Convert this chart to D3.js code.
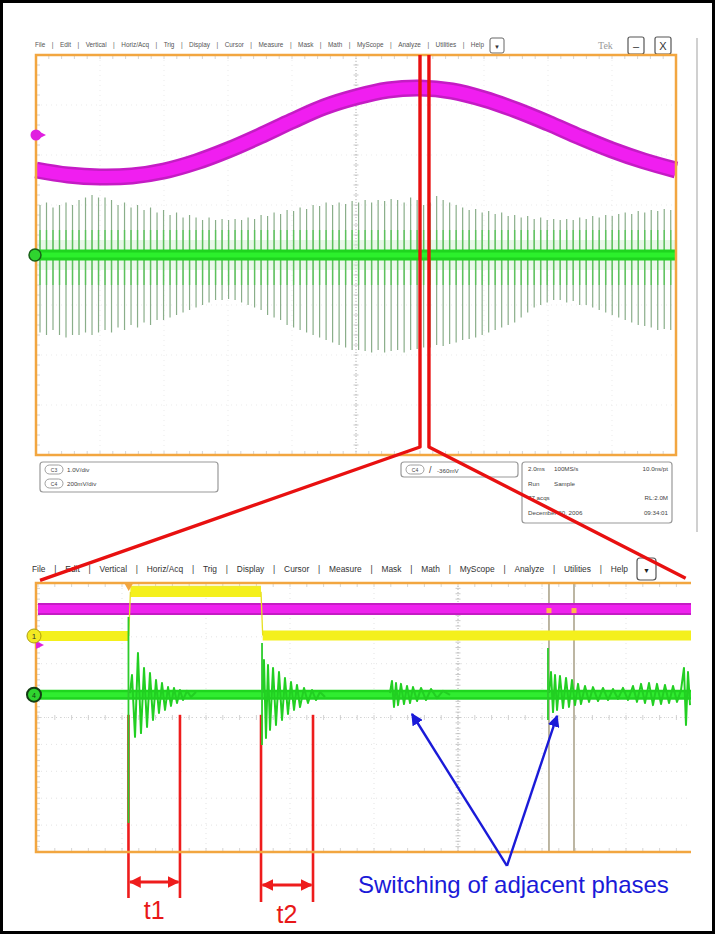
<!DOCTYPE html>
<html>
<head>
<meta charset="utf-8">
<script src="https://cdnjs.cloudflare.com/ajax/libs/d3/7.8.5/d3.min.js"></script>
<style>
  body { margin: 0; background: #fff; }
  svg { display: block; font-family: "Liberation Sans", Arial, sans-serif; }
</style>
</head>
<body>
<div id="chart"></div>
<script>
// ---- data (all values in scope divisions) ----
const menuItems = ["File", "Edit", "Vertical", "Horiz/Acq", "Trig", "Display", "Cursor",
  "Measure", "Mask", "Math", "MyScope", "Analyze", "Utilities", "Help"];

// top capture, 2.0ms/div, C3 magenta (1.0V/div)
const topMagentaT = [0, 0.5, 1, 1.5, 2, 2.5, 3, 3.5, 4, 4.5, 5, 5.5, 6, 6.5, 7, 7.5, 8, 8.5, 9, 9.5, 10];
const topMagentaV = [1.70, 1.60, 1.56, 1.58, 1.68, 1.86, 2.10, 2.38, 2.68, 2.96, 3.16, 3.30, 3.34,
  3.28, 3.12, 2.90, 2.64, 2.36, 2.10, 1.88, 1.70];

// top capture, C4 green: one spike per switching period
const firstSpikeT = 0.0625, switchPeriod = 0.1016;
const topSpikeHigh = [
  1.0, 1.05, 0.95, 1.0, 1.05, 1.0, 1.1, 1.15, 1.2, 1.15,
  1.15, 1.1, 1.0, 1.05, 0.95, 1.0, 0.9, 0.95, 0.85, 0.9,
  0.8, 0.85, 0.75, 0.8, 0.75, 0.7, 0.75, 0.7, 0.72, 0.7,
  0.72, 0.7, 0.75, 0.72, 0.8, 0.78, 0.85, 0.82, 0.9, 0.88,
  0.95, 0.92, 1.0, 0.98, 1.05, 1.0, 1.05, 1.02, 1.08, 1.05,
  1.1, 1.05, 1.1, 1.08, 1.12, 1.1, 1.05, 1.15, 1.1, 1.0,
  1.05, 1.18, 1.1, 1.05, 1.0, 0.95, 0.9, 0.92, 0.85, 0.88,
  0.82, 0.85, 0.78, 0.8, 0.75, 0.78, 0.72, 0.75, 0.7, 0.72,
  0.7, 0.72, 0.7, 0.75, 0.72, 0.78, 0.75, 0.8, 0.78, 0.82,
  0.85, 0.82, 0.88, 0.85, 0.9, 0.88, 0.92, 0.9];
const topSpikeLow = [
  -1.55, -1.6, -1.5, -1.6, -1.65, -1.6, -1.6, -1.55, -1.6, -1.55,
  -1.5, -1.55, -1.45, -1.5, -1.4, -1.45, -1.35, -1.4, -1.3, -1.3,
  -1.25, -1.2, -1.15, -1.1, -1.05, -1.0, -0.95, -0.9, -0.9, -0.88,
  -0.9, -0.95, -1.0, -1.05, -1.1, -1.2, -1.25, -1.3, -1.4, -1.45,
  -1.5, -1.55, -1.6, -1.65, -1.7, -1.75, -1.8, -1.85, -1.9, -1.9,
  -1.92, -1.95, -1.9, -1.95, -1.92, -1.9, -1.95, -1.9, -1.88, -1.85,
  -1.85, -1.8, -1.82, -1.78, -1.75, -1.7, -1.68, -1.65, -1.6, -1.55,
  -1.5, -1.45, -1.4, -1.35, -1.25, -1.15, -1.05, -1.0, -0.95, -0.9,
  -0.9, -0.95, -0.92, -1.0, -1.0, -1.05, -1.1, -1.15, -1.2, -1.25,
  -1.3, -1.35, -1.4, -1.42, -1.45, -1.5, -1.48, -1.5];

// zoomed capture
const lowMagentaLevel = 4.03;
const yellowLevels = [
  { t0: 0, t1: 1.08, v: 3.03 },
  { t0: 1.10, t1: 2.655, v: 4.67 },
  { t0: 2.675, t1: 7.8, v: 3.05 }];
const lowGreenLevel = 0.85;
const greenSpikes = [
  { t: 1.077, hi: 3.74, lo: -3.92 },
  { t: 2.667, hi: 2.77, lo: -1.02 },
  { t: 6.071, hi: 2.58, lo: -0.09 }];
const ring1 = [[1.095, 0.91], [1.119, 1.58], [1.155, -0.72], [1.190, 2.40], [1.226, -0.58], [1.262, 1.84],
  [1.298, -0.35], [1.333, 1.65], [1.369, -0.09], [1.405, 1.39], [1.440, 0.17], [1.476, 1.28], [1.512, 0.28],
  [1.548, 1.13], [1.583, 0.43], [1.619, 1.10], [1.655, 0.54], [1.690, 1.02], [1.726, 0.65], [1.774, 0.99],
  [1.821, 0.76], [1.881, 0.95]];
const ring2 = [[2.673, 0.91], [2.690, 2.14], [2.714, -0.76], [2.738, 1.95], [2.762, -0.46], [2.798, 1.84],
  [2.833, -0.28], [2.869, 1.69], [2.905, -0.09], [2.940, 1.47], [2.976, 0.13], [3.012, 1.32], [3.048, 0.28],
  [3.083, 1.21], [3.119, 0.39], [3.167, 1.10], [3.214, 0.54], [3.262, 1.02], [3.310, 0.65], [3.357, 0.95],
  [3.417, 0.76]];
const ring3 = [[4.190, 0.91], [4.214, 1.36], [4.238, 0.39], [4.262, 1.28], [4.286, 0.46], [4.321, 1.25],
  [4.357, 0.50], [4.393, 1.17], [4.429, 0.54], [4.464, 1.13], [4.512, 0.61], [4.560, 1.10], [4.619, 0.65],
  [4.679, 1.06], [4.750, 0.72], [4.821, 0.99], [4.905, 0.84]];
const ring4 = [[6.083, 0.91], [6.107, 1.69], [6.131, 0.20], [6.155, 1.58], [6.179, 0.28], [6.214, 1.54],
  [6.250, 0.35], [6.286, 1.47], [6.321, 0.39], [6.357, 1.39], [6.393, 0.46], [6.429, 1.25], [6.464, 0.50],
  [6.512, 1.17], [6.560, 0.58], [6.607, 1.13], [6.667, 0.61], [6.726, 1.10], [6.786, 0.65], [6.845, 1.06],
  [6.905, 0.69], [6.964, 1.10], [7.024, 0.65], [7.083, 1.17], [7.131, 0.58], [7.179, 1.25], [7.226, 0.54],
  [7.274, 1.28], [7.321, 0.46], [7.369, 1.25], [7.417, 0.50], [7.464, 1.21], [7.512, 0.54], [7.560, 1.17],
  [7.607, 0.58], [7.655, 1.02], [7.690, 1.84], [7.714, -0.28], [7.738, 1.69], [7.762, 0.46]];
const lowCursors = [6.083, 6.381];
const tMarks = [
  { label: "t1", t0: 1.077, t1: 1.69, arrowY: 882, labelY: 919, bottom: 898 },
  { label: "t2", t0: 2.655, t1: 3.274, arrowY: 885, labelY: 923, bottom: 902 }];
const phaseArrowTips = [[4.452, 0.13], [6.179, 0.06]];
const phaseArrowBase = [5.583, -5.52];
const zoomWindow = [6.0, 6.14];   // top-capture divisions shown below

const topInfo1 = [["C3", "1.0V/div"], ["C4", "200mV/div"]];
const topInfo3 = [["2.0ms", "100MS/s", "10.0ns/pt"], ["Run", "Sample", ""], ["77 acqs", "", "RL:2.0M"],
  ["December 20, 2006", "", "09:34:01"]];

// ---- setup ----
const W = 715, H = 934;
const svg = d3.select("#chart").append("svg").attr("width", W).attr("height", H);
svg.append("rect").attr("width", W).attr("height", H).attr("fill", "#fff");

const orange = "#f2a640";

const xTop = d3.scaleLinear().domain([0, 10]).range([36, 676]);
const yTop = d3.scaleLinear().domain([-4, 4]).range([455, 55]);
const xLow = d3.scaleLinear().domain([0, 10]).range([38, 878]);
const yLow = d3.scaleLinear().domain([-5, 5]).range([852, 583]);

function menuBar(x0, x1, y, size, color) {
  const g = svg.append("g").attr("font-size", size).attr("fill", color);
  const texts = menuItems.map(s => g.append("text").attr("y", y).text(s));
  const widths = texts.map(t => t.node().getComputedTextLength());
  const gap = (x1 - x0 - d3.sum(widths)) / (menuItems.length - 1);
  let x = x0;
  texts.forEach((t, i) => {
    t.attr("x", x);
    x += widths[i];
    if (i < menuItems.length - 1) {
      g.append("text").attr("x", x + gap / 2).attr("y", y).attr("text-anchor", "middle").text("|");
    }
    x += gap;
  });
}

function grid(g, x, y, xd, yd, xc, yc, x0, x1, y0, y1, shade) {
  g.selectAll(null).data(xd).join("line")
    .attr("x1", d => x(d)).attr("x2", d => x(d)).attr("y1", y0).attr("y2", y1)
    .attr("stroke", shade).attr("stroke-width", 0.8).attr("stroke-dasharray", "1,4");
  g.selectAll(null).data(yd).join("line")
    .attr("y1", d => y(d)).attr("y2", d => y(d)).attr("x1", x0).attr("x2", x1)
    .attr("stroke", shade).attr("stroke-width", 0.8).attr("stroke-dasharray", "1,4");
  // center cross
  g.append("line").attr("x1", x(xc)).attr("x2", x(xc)).attr("y1", y0).attr("y2", y1)
    .attr("stroke", "#b4b4b4").attr("stroke-width", 1).attr("stroke-dasharray", "1,2");
  g.append("line").attr("y1", y(yc)).attr("y2", y(yc)).attr("x1", x0).attr("x2", x1)
    .attr("stroke", "#cacaca").attr("stroke-width", 0.8).attr("stroke-dasharray", "1,3");
  const minorX = d3.range(x.domain()[0], x.domain()[1] + 0.001, 0.2).filter(d => x(d) <= x1);
  const minorY = d3.range(y.domain()[0], y.domain()[1] + 0.001, 0.2);
  g.selectAll(null).data(minorY).join("line")
    .attr("x1", x(xc) - 2.5).attr("x2", x(xc) + 2.5).attr("y1", d => y(d)).attr("y2", d => y(d))
    .attr("stroke", "#bcbcbc").attr("stroke-width", 0.8);
  g.selectAll(null).data(minorX).join("line")
    .attr("y1", y(yc) - 2.5).attr("y2", y(yc) + 2.5).attr("x1", d => x(d)).attr("x2", d => x(d))
    .attr("stroke", "#c8c8c8").attr("stroke-width", 0.8);
  // border ticks
  g.selectAll(null).data(minorX).join("line")
    .attr("x1", d => x(d)).attr("x2", d => x(d)).attr("y1", y1 - 4).attr("y2", y1)
    .attr("stroke", "#cccccc").attr("stroke-width", 0.8);
  g.selectAll(null).data(minorX).join("line")
    .attr("x1", d => x(d)).attr("x2", d => x(d)).attr("y1", y0).attr("y2", y0 + 4)
    .attr("stroke", "#cccccc").attr("stroke-width", 0.8);
  g.selectAll(null).data(minorY).join("line")
    .attr("x1", x0).attr("x2", x0 + 4).attr("y1", d => y(d)).attr("y2", d => y(d))
    .attr("stroke", "#cccccc").attr("stroke-width", 0.8);
}

// ---------------- top capture ----------------
menuBar(35, 484, 47, 6.4, "#555");
svg.append("rect").attr("x", 490).attr("y", 38).attr("width", 14).attr("height", 15).attr("rx", 2)
  .attr("fill", "#fff").attr("stroke", "#666");
svg.append("text").attr("x", 497).attr("y", 48.5).attr("text-anchor", "middle").attr("font-size", 6).attr("fill", "#333").text("▼");
svg.append("text").attr("x", 598).attr("y", 49).attr("font-size", 10).attr("font-family", "Liberation Serif, serif")
  .attr("fill", "#999").text("Tek");
[[628, "–"], [655, "X"]].forEach(([bx, s]) => {
  svg.append("rect").attr("x", bx).attr("y", 37).attr("width", 16).attr("height", 17).attr("rx", 2)
    .attr("fill", "#fff").attr("stroke", "#555").attr("stroke-width", 1.2);
  svg.append("text").attr("x", bx + 8).attr("y", 50).attr("text-anchor", "middle").attr("font-size", 11)
    .attr("fill", "#333").text(s);
});
svg.append("line").attr("x1", 697).attr("x2", 697).attr("y1", 38).attr("y2", 532)
  .attr("stroke", "#d0d0d0").attr("stroke-width", 2);

const topG = svg.append("g");
grid(topG, xTop, yTop, d3.range(1, 10), d3.range(-3, 4), 5, 0, 36, 676, 55, 455, "#e6e6e6");

// green halo, spikes, core
topG.append("line").attr("x1", xTop(0)).attr("x2", xTop(10)).attr("y1", yTop(0)).attr("y2", yTop(0))
  .attr("stroke", "#cdf0cd").attr("stroke-width", 30).attr("opacity", 0.45);
const spikeT = topSpikeHigh.map((d, i) => firstSpikeT + i * switchPeriod);
topG.append("g").selectAll("line").data(topSpikeHigh).join("line")
  .attr("x1", (d, i) => xTop(spikeT[i])).attr("x2", (d, i) => xTop(spikeT[i]))
  .attr("y1", d => yTop(d)).attr("y2", (d, i) => yTop(topSpikeLow[i]))
  .attr("stroke", "#8aae8a").attr("stroke-width", 1.2);
topG.append("g").selectAll("line").data(topSpikeHigh).join("line")
  .attr("x1", (d, i) => xTop(spikeT[i])).attr("x2", (d, i) => xTop(spikeT[i]))
  .attr("y1", d => yTop(Math.min(d, 0.5))).attr("y2", (d, i) => yTop(Math.max(topSpikeLow[i], -0.6)))
  .attr("stroke", "#4cc84c").attr("stroke-width", 1.5).attr("opacity", 0.75);
topG.append("line").attr("x1", xTop(0)).attr("x2", xTop(10)).attr("y1", yTop(0)).attr("y2", yTop(0))
  .attr("stroke", "#1fd51f").attr("stroke-width", 11);
topG.append("line").attr("x1", xTop(0)).attr("x2", xTop(10)).attr("y1", yTop(0)).attr("y2", yTop(0))
  .attr("stroke", "#2cf02c").attr("stroke-width", 5);

// magenta band
const magLine = d3.line().x((d, i) => xTop(topMagentaT[i])).y(d => yTop(d)).curve(d3.curveCatmullRom);
topG.append("path").attr("d", magLine(topMagentaV)).attr("fill", "none")
  .attr("stroke", "#c41cc4").attr("stroke-width", 17);
topG.append("path").attr("d", magLine(topMagentaV)).attr("fill", "none")
  .attr("stroke", "#f01ef0").attr("stroke-width", 12);

topG.append("rect").attr("x", 36).attr("y", 55).attr("width", 640).attr("height", 400)
  .attr("fill", "none").attr("stroke", orange).attr("stroke-width", 2.5);

// channel markers
topG.append("path").attr("d", `M${xTop(0) + 4},${yTop(2.4) - 3}L${xTop(0) + 10},${yTop(2.4)}L${xTop(0) + 4},${yTop(2.4) + 3}Z`).attr("fill", "#e020e0");
topG.append("circle").attr("cx", xTop(0)).attr("cy", yTop(2.4)).attr("r", 5.5).attr("fill", "#e020e0");
topG.append("circle").attr("cx", 35).attr("cy", yTop(0)).attr("r", 6).attr("fill", "#2fd42f")
  .attr("stroke", "#186018").attr("stroke-width", 1.5);

// info boxes
const info = svg.append("g").attr("font-size", 6.2).attr("fill", "#444");
function pill(g, x, y, s) {
  g.append("rect").attr("x", x).attr("y", y).attr("width", 18).attr("height", 9).attr("rx", 4.5)
    .attr("fill", "#fff").attr("stroke", "#888").attr("stroke-width", 0.8);
  g.append("text").attr("x", x + 9).attr("y", y + 6.5).attr("text-anchor", "middle").attr("font-size", 5).text(s);
}
info.append("rect").attr("x", 40).attr("y", 462).attr("width", 178).attr("height", 30).attr("rx", 3)
  .attr("fill", "#fff").attr("stroke", "#999").attr("stroke-width", 1.2);
topInfo1.forEach(([c, s], i) => {
  pill(info, 45, 465 + i * 14, c);
  info.append("text").attr("x", 67).attr("y", 472 + i * 14).text(s);
});
info.append("rect").attr("x", 401).attr("y", 462).attr("width", 117).attr("height", 15).attr("rx", 3)
  .attr("fill", "#fff").attr("stroke", "#999").attr("stroke-width", 1.2);
pill(info, 406, 465, "C4");
info.append("text").attr("x", 429).attr("y", 473).attr("font-size", 9).text("/");
info.append("text").attr("x", 437).attr("y", 473).text("-360mV");
info.append("rect").attr("x", 522).attr("y", 462).attr("width", 150).attr("height", 61).attr("rx", 3)
  .attr("fill", "#fff").attr("stroke", "#999").attr("stroke-width", 1.2);
topInfo3.forEach((row, i) => {
  const y = 471 + i * 14.5;
  info.append("text").attr("x", 528).attr("y", y).text(row[0]);
  info.append("text").attr("x", 554).attr("y", y).text(row[1]);
  info.append("text").attr("x", 668).attr("y", y).attr("text-anchor", "end").text(row[2]);
});

// ---------------- zoomed capture ----------------
menuBar(32, 628, 572, 8.4, "#333");
svg.append("rect").attr("x", 637).attr("y", 558).attr("width", 19).attr("height", 22).attr("rx", 3)
  .attr("fill", "#fff").attr("stroke", "#555").attr("stroke-width", 1.2);
svg.append("text").attr("x", 646.5).attr("y", 573).attr("text-anchor", "middle").attr("font-size", 7).attr("fill", "#222").text("▼");

svg.append("defs").append("clipPath").attr("id", "lowClip")
  .append("rect").attr("x", 36).attr("y", 583).attr("width", 655).attr("height", 269);
const lowG = svg.append("g");
const lowPlot = lowG.append("g").attr("clip-path", "url(#lowClip)");
grid(lowPlot, xLow, yLow, d3.range(1, 8), d3.range(-4, 5), 5, 0, 36, 691, 583, 852, "#dcdcdc");

// cursors
lowPlot.selectAll(null).data(lowCursors).join("line")
  .attr("x1", d => xLow(d)).attr("x2", d => xLow(d)).attr("y1", 583).attr("y2", 852)
  .attr("stroke", "#aca48c").attr("stroke-width", 1.6);

// t-mark red lines (under traces)
const tLines = tMarks.flatMap(m => [{ t: m.t0, b: m.bottom }, { t: m.t1, b: m.bottom }]);
lowG.selectAll(null).data(tLines).join("line")
  .attr("x1", d => xLow(d.t)).attr("x2", d => xLow(d.t)).attr("y1", yLow(0.1)).attr("y2", d => d.b)
  .attr("stroke", "#ee1c1c").attr("stroke-width", 2.6);

// magenta
lowPlot.append("line").attr("x1", xLow(0)).attr("x2", xLow(7.8)).attr("y1", yLow(lowMagentaLevel)).attr("y2", yLow(lowMagentaLevel))
  .attr("stroke", "#c41cc4").attr("stroke-width", 12);
lowPlot.append("line").attr("x1", xLow(0)).attr("x2", xLow(7.8)).attr("y1", yLow(lowMagentaLevel)).attr("y2", yLow(lowMagentaLevel))
  .attr("stroke", "#ee22ee").attr("stroke-width", 8);
lowPlot.selectAll(null).data(lowCursors).join("rect")
  .attr("x", d => xLow(d) - 2.5).attr("y", yLow(lowMagentaLevel) - 1).attr("width", 5).attr("height", 5)
  .attr("fill", "#ffb84a");

// yellow
lowPlot.selectAll(null).data(yellowLevels).join("line")
  .attr("x1", d => xLow(d.t0)).attr("x2", d => xLow(d.t1)).attr("y1", d => yLow(d.v)).attr("y2", d => yLow(d.v))
  .attr("stroke", "#f4f01c").attr("stroke-width", 10);
lowPlot.selectAll(null).data(d3.pairs(yellowLevels)).join("line")
  .attr("x1", d => xLow(d[0].t1)).attr("x2", d => xLow(d[1].t0)).attr("y1", d => yLow(d[0].v)).attr("y2", d => yLow(d[1].v))
  .attr("stroke", "#e6e020").attr("stroke-width", 1.3);
lowPlot.append("line").attr("x1", xLow(yellowLevels[1].t0)).attr("x2", xLow(yellowLevels[1].t1))
  .attr("y1", yLow(yellowLevels[1].v + 0.2)).attr("y2", yLow(yellowLevels[1].v + 0.2))
  .attr("stroke", "#f0ea30").attr("stroke-width", 1.5);

// green
lowPlot.append("line").attr("x1", xLow(0)).attr("x2", xLow(7.8)).attr("y1", yLow(lowGreenLevel)).attr("y2", yLow(lowGreenLevel))
  .attr("stroke", "#1fd51f").attr("stroke-width", 10);
lowPlot.append("line").attr("x1", xLow(0)).attr("x2", xLow(7.8)).attr("y1", yLow(lowGreenLevel)).attr("y2", yLow(lowGreenLevel))
  .attr("stroke", "#30ec30").attr("stroke-width", 5);
const ringLine = d3.line().x(d => xLow(d[0])).y(d => yLow(d[1]));
lowPlot.selectAll(null).data([ring1, ring2, ring3, ring4]).join("path")
  .attr("d", ringLine).attr("fill", "none").attr("stroke", "#22cf22").attr("stroke-width", 2)
  .attr("stroke-linejoin", "round");
lowG.selectAll(null).data(greenSpikes).join("line")
  .attr("x1", d => xLow(d.t)).attr("x2", d => xLow(d.t)).attr("y1", d => yLow(d.hi)).attr("y2", d => yLow(d.lo))
  .attr("stroke", "#2ccc2c").attr("stroke-width", 1.8);

// frame (open on the right)
lowG.append("path").attr("d", `M691,583H36V852H691`).attr("fill", "none").attr("stroke", orange).attr("stroke-width", 2.5);
lowG.append("path").attr("d", `M${xLow(1.08) - 4},584L${xLow(1.08) + 4},584L${xLow(1.08)},591Z`).attr("fill", orange);

// channel markers
lowG.append("path").attr("d", "M36,641L44,645L36,649Z").attr("fill", "#e020e0");
lowG.append("circle").attr("cx", 34).attr("cy", yLow(3.03)).attr("r", 7).attr("fill", "#f2ea22")
  .attr("stroke", "#b0a010").attr("stroke-width", 1);
lowG.append("text").attr("x", 34).attr("y", yLow(3.03) + 3).attr("text-anchor", "middle").attr("font-size", 8).attr("fill", "#333").text("1");
lowG.append("circle").attr("cx", 34).attr("cy", yLow(lowGreenLevel)).attr("r", 7).attr("fill", "#2fd42f")
  .attr("stroke", "#143c14").attr("stroke-width", 2);
lowG.append("text").attr("x", 34).attr("y", yLow(lowGreenLevel) + 3).attr("text-anchor", "middle").attr("font-size", 7).attr("fill", "#143c14").text("4");

// ---------------- annotations ----------------
const ann = svg.append("g");
svg.append("defs").html(`
  <marker id="redHead" viewBox="0 0 10 10" refX="9" refY="5" markerWidth="4" markerHeight="4" orient="auto-start-reverse">
    <path d="M0,0L10,5L0,10Z" fill="#ee1c1c"/></marker>
  <marker id="blueHead" viewBox="0 0 10 10" refX="9" refY="5" markerWidth="5" markerHeight="5" orient="auto">
    <path d="M0,0L10,5L0,10Z" fill="#1a1ad8"/></marker>`);
tMarks.forEach(m => {
  ann.append("line").attr("x1", xLow(m.t0) + 1.5).attr("x2", xLow(m.t1) - 1.5).attr("y1", m.arrowY).attr("y2", m.arrowY)
    .attr("stroke", "#ee1c1c").attr("stroke-width", 3)
    .attr("marker-start", "url(#redHead)").attr("marker-end", "url(#redHead)");
  ann.append("text").attr("x", (xLow(m.t0) + xLow(m.t1)) / 2).attr("y", m.labelY).attr("text-anchor", "middle")
    .attr("font-size", 25).attr("fill", "#e81818").text(m.label);
});
phaseArrowTips.forEach(p => {
  ann.append("line").attr("x1", xLow(phaseArrowBase[0])).attr("y1", yLow(phaseArrowBase[1]))
    .attr("x2", xLow(p[0])).attr("y2", yLow(p[1]))
    .attr("stroke", "#1a1ad8").attr("stroke-width", 2.4).attr("marker-end", "url(#blueHead)");
});
ann.append("text").attr("x", 358).attr("y", 893).attr("font-size", 24).attr("fill", "#1a1ad8")
  .text("Switching of adjacent phases");

// red zoom lines from the top capture to the zoomed capture
const zoomEnds = [[xLow(0.024), yLow(5.1)], [xLow(7.71), yLow(5.18)]];
zoomWindow.forEach((t, i) => {
  const x = xTop(t), turn = yTop(-3.84);
  ann.append("path").attr("d", `M${x},${yTop(4)}V${turn}L${zoomEnds[i][0]},${zoomEnds[i][1]}`)
    .attr("fill", "none").attr("stroke", "#e81010").attr("stroke-width", 3.4).attr("stroke-linejoin", "round");
});

// outer frame
svg.append("rect").attr("x", 1.5).attr("y", 1.5).attr("width", W - 3).attr("height", H - 3)
  .attr("fill", "none").attr("stroke", "#000").attr("stroke-width", 3);
</script>
</body>
</html>
